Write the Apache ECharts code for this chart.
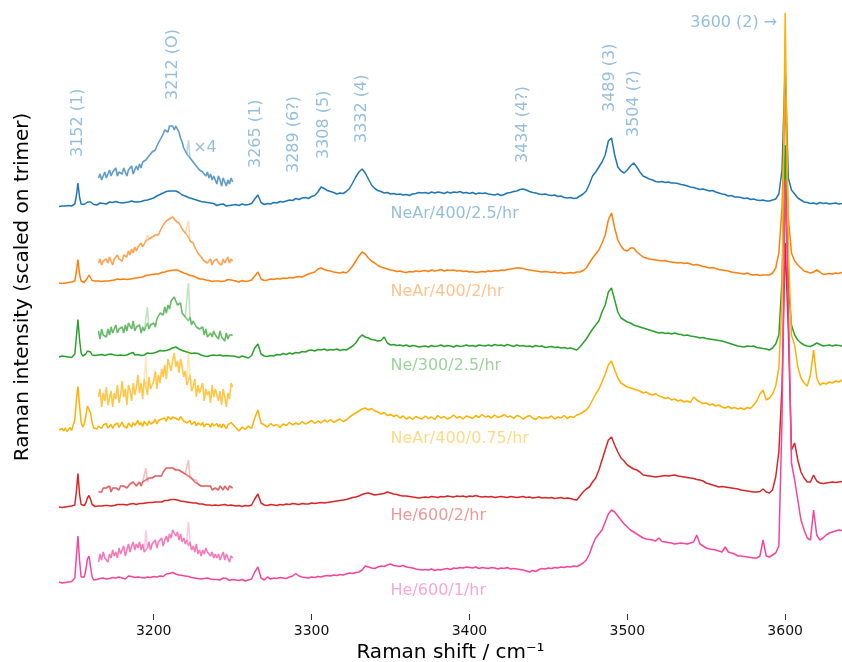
<!DOCTYPE html>
<html>
<head>
<meta charset="utf-8">
<script src="https://cdn.jsdelivr.net/npm/echarts@6/dist/echarts.min.js"></script>
<style>
  html, body { margin: 0; padding: 0; background: #ffffff; }
  #chart { width: 842px; height: 662px; }
</style>
</head>
<body>
<div id="chart"></div>
<script>
// Raman shift sampling (cm-1): 1 cm-1 steps through the magnified window, 2 cm-1 steps above it
const fineShifts = { from: 3140, to: 3250, step: 1 };
const coarseShifts = { from: 3252, to: 3640, step: 2 };

// Spectra, intensity above each trace's own baseline (arb. units)
const spectrumNeAr400_25 = [
  -3,-1,-2,0,-2,1,-1,0,-2,1,
  2,18,44,16,2,0,1,3,6,8,
  6,2,1,3,0,2,4,1,3,5,
  2,4,6,3,5,4,7,3,5,6,
  4,7,5,3,6,5,8,4,6,8,
  6,9,7,10,9,11,10,13,12,15,
  14,16,18,17,21,20,24,26,27,25,
  28,27,28,26,28,27,25,22,20,17,
  18,14,15,12,13,10,11,8,9,6,
  7,5,6,3,5,2,4,1,3,2,
  -1,3,1,-2,2,0,-2,1,-1,2,
  0,
  1,-1,2,0,1,3,12,20,5,1,
  3,2,5,4,7,6,8,10,9,13,
  11,14,15,13,17,19,26,36,33,29,
  27,25,22,24,23,27,33,44,56,66,
  72,64,52,40,33,29,27,24,25,22,
  23,21,22,20,21,19,22,23,25,24,
  25,23,26,24,26,25,23,26,24,26,
  25,27,24,25,23,25,22,24,23,24,
  22,21,20,22,19,21,24,25,27,28,
  31,32,30,27,25,24,22,21,22,20,
  19,20,17,18,15,14,15,13,14,18,
  22,28,42,58,66,76,86,100,128,134,
  100,76,68,64,70,78,84,76,66,58,
  55,52,50,47,46,47,45,46,44,44,
  43,41,40,38,36,35,33,31,32,30,
  28,29,26,24,22,21,18,19,16,16,
  15,13,14,11,12,10,9,10,8,8,
  10,12,22,70,274,54,30,22,14,10,
  6,5,3,4,2,5,3,4,2,3,
  4,2,3,5,3
];
const spectrumNeAr400_2 = [
  0,2,-1,1,0,2,1,-1,2,1,
  4,22,47,18,4,2,1,4,10,16,
  12,5,3,4,2,4,6,3,5,4,
  6,4,7,5,3,6,5,8,6,7,
  5,8,9,7,10,8,11,9,12,10,
  12,11,14,12,13,15,14,16,15,17,
  16,18,19,18,20,21,23,22,25,24,
  26,25,27,26,25,26,24,23,21,20,
  19,18,17,15,16,14,12,11,9,8,
  7,8,5,6,4,5,6,3,5,4,
  6,4,5,3,6,4,5,7,4,6,
  5,
  4,2,5,3,4,6,14,22,8,5,
  6,8,7,9,8,10,9,11,10,12,
  13,12,15,18,20,22,28,30,27,25,
  24,22,21,20,22,20,26,34,44,54,
  62,58,50,44,40,35,32,30,28,26,
  25,23,24,22,21,23,22,24,23,24,
  25,23,26,24,25,27,24,26,25,26,
  24,25,23,24,22,23,21,22,23,22,
  24,23,25,24,26,25,27,28,29,30,
  30,29,27,26,25,24,23,22,23,22,
  21,22,20,21,19,20,21,20,22,22,
  25,30,40,50,58,66,80,96,126,140,
  110,86,74,66,64,70,70,62,57,52,
  50,48,47,46,45,44,45,43,42,41,
  40,41,39,40,38,36,37,35,33,32,
  30,31,29,27,26,25,24,22,21,20,
  19,18,20,17,16,17,15,16,16,16,
  20,30,60,150,370,130,60,44,36,30,
  24,22,20,22,26,22,17,18,19,18,
  20,19,21,20,20
];
const spectrumNe300_25 = [
  0,-2,2,-1,1,-3,0,2,-1,1,
  6,40,75,36,8,2,4,6,12,15,
  10,4,1,3,-1,4,0,5,2,3,
  1,5,2,6,3,4,7,3,5,4,
  6,3,7,4,8,7,5,9,4,6,
  5,7,3,6,4,5,8,5,7,6,
  8,6,10,9,13,14,12,16,13,17,
  15,19,18,21,20,17,16,18,13,14,
  11,12,9,11,7,9,8,6,7,5,
  4,6,2,5,1,0,3,1,4,2,
  3,0,4,1,2,-1,3,0,2,1,
  2,
  1,-1,2,0,-2,3,18,26,6,2,
  1,3,2,5,4,7,5,8,6,9,
  8,11,10,13,14,12,15,14,16,13,
  15,14,16,13,15,14,18,22,28,38,
  44,40,38,35,34,32,33,40,28,24,
  25,23,24,22,24,21,23,22,20,21,
  22,20,23,21,22,24,21,23,22,20,
  23,21,22,24,22,23,21,24,23,22,
  24,22,25,23,24,22,25,23,21,24,
  22,23,21,22,20,23,21,22,19,20,
  21,19,20,18,19,17,18,16,14,20,
  28,36,46,56,64,72,90,104,130,138,
  114,90,78,74,70,68,64,62,60,58,
  56,54,52,50,48,49,47,48,46,48,
  46,45,43,44,42,41,40,38,39,37,
  36,35,34,33,32,30,28,26,24,22,
  21,20,22,21,22,19,18,17,16,14,
  18,26,44,154,424,144,64,44,34,28,
  24,22,21,24,28,25,22,23,24,22,
  24,23,22,24,23
];
const spectrumNeAr400_075 = [
  0,-4,3,-2,4,-3,1,5,-1,3,
  20,60,87,50,16,6,12,28,48,52,
  34,14,4,8,2,8,12,3,10,6,
  13,4,5,11,3,10,7,14,5,9,
  16,8,12,4,14,11,6,15,9,13,
  19,10,15,7,17,13,9,18,12,14,
  16,21,12,19,15,22,18,24,17,27,
  28,21,26,30,23,26,20,27,23,18,
  21,14,16,19,11,13,17,8,14,10,
  10,15,6,12,9,11,5,14,8,12,
  13,6,11,4,12,8,3,10,7,15,
  13,
  5,-2,6,1,8,3,24,40,14,10,
  6,13,8,11,5,12,9,15,10,14,
  11,17,12,15,19,13,18,14,20,16,
  21,15,19,22,17,20,26,30,34,38,
  42,44,40,43,38,36,32,35,29,31,
  27,30,24,28,22,26,21,27,24,22,
  28,23,26,21,29,24,27,22,25,30,
  24,27,22,28,26,23,29,25,31,26,
  28,24,30,25,27,31,26,28,23,29,
  27,22,26,29,24,21,27,23,25,24,
  28,22,26,24,29,23,27,25,30,32,
  36,40,48,60,72,82,96,112,130,138,
  120,104,94,90,86,84,82,80,78,74,
  76,72,70,73,68,66,63,65,60,62,
  58,60,56,58,55,66,60,56,53,54,
  50,52,48,50,46,44,47,43,45,42,
  44,41,45,43,50,58,72,80,60,64,
  72,88,124,260,834,360,190,170,126,104,
  94,88,110,160,104,90,94,92,96,94,
  98,96,100,97,99
];
const spectrumHe600_2 = [
  0,1,-1,1,0,-1,1,0,2,1,
  4,30,67,26,5,2,3,8,18,23,
  15,5,2,1,3,2,3,2,4,3,
  4,3,5,2,4,3,4,5,3,5,
  4,5,6,4,5,6,5,7,6,5,
  6,7,5,7,8,8,7,9,8,9,
  9,10,9,10,11,10,12,13,14,13,
  14,15,14,15,13,14,13,12,12,11,
  11,10,10,9,9,8,7,8,6,6,
  5,6,5,4,5,4,5,3,4,4,
  4,3,5,4,3,5,4,3,5,4,
  4,
  2,3,1,3,2,4,16,26,8,4,
  3,5,4,3,5,4,6,5,7,6,
  5,7,6,6,8,7,8,9,8,9,
  10,11,12,13,14,15,17,19,20,22,
  25,27,28,26,24,25,26,27,30,28,
  26,25,23,22,22,21,20,19,18,19,
  20,19,21,20,19,21,20,22,21,20,
  22,21,22,20,22,21,23,21,20,21,
  20,21,19,20,21,20,19,21,20,19,
  20,21,19,20,18,19,20,18,19,18,
  19,17,18,19,17,18,17,15,14,22,
  30,36,40,50,58,74,94,114,134,140,
  124,110,98,92,84,80,76,74,70,64,
  63,62,61,60,61,62,63,62,63,64,
  62,61,60,59,58,57,55,54,52,48,
  46,44,42,40,41,40,39,38,37,36,
  34,33,32,31,30,30,31,36,30,28,
  34,60,110,240,528,354,114,128,94,70,
  58,50,50,64,52,48,47,48,49,50,
  49,50,51,50,50
];
const spectrumHe600_1 = [
  0,1,-2,1,-1,2,0,-1,1,2,
  8,50,92,44,10,6,10,24,46,52,
  30,10,4,2,5,3,7,4,8,5,
  6,3,7,5,9,6,8,5,10,7,
  8,11,6,9,12,8,11,13,9,12,
  10,13,9,12,8,7,10,13,9,12,
  11,14,10,13,12,15,11,14,16,13,
  17,15,19,20,16,18,14,17,13,15,
  12,14,11,13,9,11,8,12,7,9,
  6,9,7,10,8,9,6,8,5,7,
  5,7,4,6,8,4,7,5,3,6,
  5,
  4,3,5,2,4,6,20,30,8,4,
  10,6,8,7,9,8,7,10,12,17,
  12,10,9,8,10,9,11,10,12,13,
  12,14,13,15,14,16,18,17,19,20,
  24,32,30,28,27,30,32,31,34,36,
  33,32,31,33,30,29,28,26,25,24,
  25,24,26,23,25,24,26,27,25,28,
  27,29,28,30,29,28,30,27,29,28,
  27,29,28,26,28,27,29,26,27,26,
  25,24,22,20,23,21,25,27,26,28,
  27,29,28,30,29,31,30,32,31,34,
  38,44,56,74,88,96,104,120,136,144,
  140,132,124,116,110,104,100,96,92,88,
  86,85,84,82,88,81,80,79,78,76,
  77,78,77,76,78,80,94,76,72,68,
  66,65,64,62,60,70,60,58,56,52,
  52,51,50,49,48,48,52,84,52,50,
  54,58,72,324,804,560,238,204,164,124,
  104,88,84,144,94,84,88,94,98,100,
  102,104,103,104,102
];

// Cosmic-ray spikes present only in the raw data: [shift, height]
const spikesNeAr400_25 = [[3222, 6]];
const spikesNeAr400_2 = [[3196, 4], [3222, 8]];
const spikesNe300_25 = [[3196, 8], [3222, 19]];
const spikesNeAr400_075 = [[3195, 15], [3222, 16]];
const spikesHe600_2 = [[3195, 6], [3222, 8]];
const spikesHe600_1 = [[3195, 12], [3222, 12]];

const traceNames = ['NeAr/400/2.5/hr', 'NeAr/400/2/hr', 'Ne/300/2.5/hr', 'NeAr/400/0.75/hr', 'He/600/2/hr', 'He/600/1/hr'];
const traceOffsets = [818, 662, 514, 368, 214, 64];
const insetLifts = [46, 24, 36, 34, 22, 28];
const insetWindow = [3165, 3250];
const insetGain = 4;

// Band assignments written above the top trace
const bandShifts = [3152, 3212, 3265, 3289, 3308, 3332, 3434, 3489, 3504];
const bandTags = ['(1)', '(O)', '(1)', '(6?)', '(5)', '(4)', '(4?)', '(3)', '(?)'];
const bandLabelHeights = [914, 1028, 892, 882, 910, 942, 902, 1004, 954];
const trimerBand = { shift: 3600, tag: '(2) \u2192', labelAt: [3595, 1182] };

const xTickValues = [3200, 3300, 3400, 3500, 3600];

const spectra = [spectrumNeAr400_25, spectrumNeAr400_2, spectrumNe300_25, spectrumNeAr400_075, spectrumHe600_2, spectrumHe600_1];
const spikes = [spikesNeAr400_25, spikesNeAr400_2, spikesNe300_25, spikesNeAr400_075, spikesHe600_2, spikesHe600_1];

const palette = ['#1f77b4', '#ff7f0e', '#2ca02c', '#ffb000', '#d62728', '#f5449c'];
const FONT = 'DejaVu Sans';

function fade(hex, a) {
  const n = parseInt(hex.slice(1), 16);
  return `rgba(${(n >> 16) & 255},${(n >> 8) & 255},${n & 255},${a})`;
}

const shifts = [];
for (let x = fineShifts.from; x <= fineShifts.to; x += fineShifts.step) shifts.push(x);
for (let x = coarseShifts.from; x <= coarseShifts.to; x += coarseShifts.step) shifts.push(x);

const series = [];
spectra.forEach((vals, i) => {
  const off = traceOffsets[i];
  const color = palette[i];
  const spikeAt = new Map(spikes[i]);
  const main = shifts.map((x, j) => [x, off + vals[j]]);
  const inset = [];
  const raw = [];
  shifts.forEach((x, j) => {
    if (x < insetWindow[0] || x > insetWindow[1]) return;
    const base = off + insetLifts[i];
    inset.push([x, base + insetGain * vals[j]]);
    raw.push([x, base + insetGain * (vals[j] + (spikeAt.get(x) || 0))]);
  });
  const common = { type: 'line', showSymbol: false, symbol: 'none', silent: true, animation: false };
  series.push(Object.assign({}, common, { data: raw, lineStyle: { color, width: 1.5, opacity: 0.3 } }));
  series.push(Object.assign({}, common, { data: inset, lineStyle: { color, width: 1.5, opacity: 0.6 } }));
  series.push(Object.assign({}, common, { data: main, lineStyle: { color, width: 1.5 } }));
});

const labelBase = { type: 'scatter', symbolSize: 1, silent: true, animation: false, itemStyle: { color: 'rgba(0,0,0,0)' } };

// Sample names under each trace
series.push(Object.assign({}, labelBase, {
  data: traceNames.map((name, i) => ({
    value: [3350, traceOffsets[i] - 17],
    label: {
      show: true, position: 'inside', align: 'left', verticalAlign: 'middle',
      formatter: name, color: fade(palette[i], 0.6), fontSize: 16, fontFamily: FONT
    }
  }))
}));

// Band assignment labels (rotated)
series.push(Object.assign({}, labelBase, {
  data: bandShifts.map((s, k) => ({
    value: [s, bandLabelHeights[k]],
    label: {
      show: true, position: 'inside', rotate: 90, align: 'left', verticalAlign: 'middle',
      formatter: `${s} ${bandTags[k]}`, color: fade(palette[0], 0.6), fontSize: 16, fontFamily: FONT
    }
  }))
}));

// Trimer band marker and magnification note
series.push(Object.assign({}, labelBase, {
  data: [
    {
      value: trimerBand.labelAt,
      label: {
        show: true, position: 'inside', align: 'right', verticalAlign: 'middle',
        formatter: `${trimerBand.shift} ${trimerBand.tag}`, color: fade(palette[0], 0.6), fontSize: 16, fontFamily: FONT
      }
    },
    {
      value: [3225, 932],
      label: {
        show: true, position: 'inside', align: 'left', verticalAlign: 'middle',
        formatter: '\u00d7' + insetGain, color: fade(palette[0], 0.6), fontSize: 16, fontFamily: FONT
      }
    }
  ]
}));

const chart = echarts.init(document.getElementById('chart'), null, { renderer: 'canvas' });
chart.setOption({
  animation: false,
  backgroundColor: '#ffffff',
  grid: { left: 59, right: 0, top: 0, bottom: 48, containLabel: false, outerBoundsMode: 'none' },
  xAxis: {
    type: 'value', min: 3140, max: 3636,
    name: 'Raman shift / cm\u207b\u00b9', nameLocation: 'middle', nameGap: 28,
    nameTextStyle: { fontSize: 20, color: '#000', fontFamily: FONT },
    axisLine: { show: false },
    axisTick: { show: true, customValues: xTickValues, length: 6, lineStyle: { color: '#2e2e48', width: 1 } },
    axisLabel: { customValues: xTickValues, formatter: v => String(v), fontSize: 14, color: '#111', margin: 10, fontFamily: FONT },
    splitLine: { show: false }
  },
  yAxis: {
    type: 'value', min: 0, max: 1228,
    name: 'Raman intensity (scaled on trimer)', nameLocation: 'middle', nameGap: 26,
    nameTextStyle: { fontSize: 20, color: '#000', fontFamily: FONT, padding: [0, 0, 0, 40] },
    axisLine: { show: false }, axisTick: { show: false }, axisLabel: { show: false },
    splitLine: { show: false }
  },
  series
});
</script>
</body>
</html>
